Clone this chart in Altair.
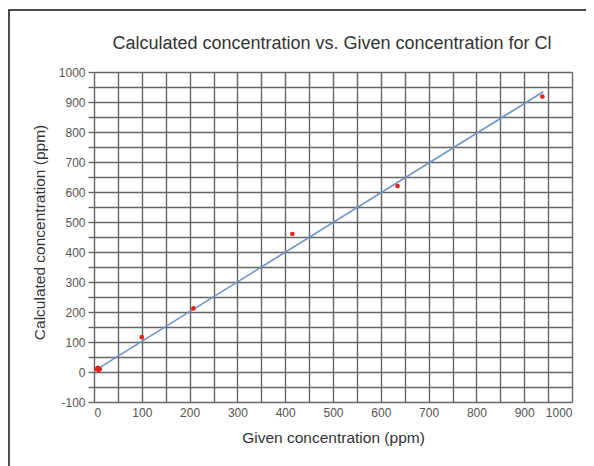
import altair as alt
import pandas as pd

given = [5, 8, 10, 12, 100, 208, 415, 635, 938]
calculated = [10, 14, 6, 10, 116, 212, 460, 620, 918]
fit_x = [5, 940]
fit_y = [8, 934]
x_ticks = list(range(0, 1001, 50))
y_ticks = list(range(-100, 1001, 50))
title_text = "Calculated concentration vs. Given concentration for Cl"

pts = pd.DataFrame({"given": given, "calc": calculated})
fit = pd.DataFrame({"given": fit_x, "calc": fit_y})

FONT = "Liberation Sans"
GRID = "#666666"
LABEL_EXPR = "datum.value % 100 == 0 ? '' + datum.value : ''"

xscale = alt.Scale(domain=[0, 1000], nice=False, zero=False)
yscale = alt.Scale(domain=[-100, 1000], nice=False, zero=False)

xaxis = alt.Axis(
    title="Given concentration (ppm)", values=x_ticks,
    labelExpr=LABEL_EXPR, labelOverlap=False,
    grid=True, gridColor=GRID, gridWidth=1.4, gridOpacity=1,
    domain=False, ticks=False, labelPadding=5,
    labelFont=FONT, labelFontSize=12, labelColor="#555555",
    titleFont=FONT, titleFontSize=15.5, titleFontWeight="normal", titleColor="#333333",
    titleY=35, titleBaseline="middle",
)
yaxis = alt.Axis(
    title="Calculated concentration (ppm)", values=y_ticks,
    labelExpr=LABEL_EXPR, labelOverlap=False,
    grid=True, gridColor=GRID, gridWidth=1.4, gridOpacity=1,
    domain=False, ticks=True, tickColor=GRID, tickSize=6, tickWidth=1.4,
    labelPadding=3,
    labelFont=FONT, labelFontSize=12, labelColor="#555555",
    titleFont=FONT, titleFontSize=15.5, titleFontWeight="normal", titleColor="#333333",
    titleX=-55, titleY=160, titleAngle=-90, titleAlign="center", titleBaseline="middle",
)

frame = alt.Chart(alt.Data(values=[{}])).mark_rect(
    fill=None, stroke="#111111", strokeWidth=1.5
).encode(
    x=alt.value(-85), x2=alt.value(620), y=alt.value(-62), y2=alt.value(520)
)

title = alt.Chart(alt.Data(values=[{"t": title_text}])).mark_text(
    font=FONT, fontSize=18, color="#333333", align="center", baseline="middle"
).encode(
    text="t:N", x=alt.value(238), y=alt.value(-28)
)

line = alt.Chart(fit).mark_line(color="#6f93c6", strokeWidth=1.6).encode(
    x=alt.X("given:Q", scale=xscale, axis=xaxis),
    y=alt.Y("calc:Q", scale=yscale, axis=yaxis),
)

points = alt.Chart(pts).mark_circle(color="#e8221b", size=22, opacity=1).encode(
    x=alt.X("given:Q", scale=xscale, axis=xaxis),
    y=alt.Y("calc:Q", scale=yscale, axis=yaxis),
)

chart = alt.layer(line, points, frame, title).properties(
    width=478, height=330,
    autosize=alt.AutoSizeParams(type="none"),
    padding={"left": 86, "top": 64, "right": 14, "bottom": 64},
).configure_view(stroke=GRID, strokeWidth=1.4).configure(background="white")

chart.save("out.html", embed_options={"renderer": "svg", "actions": False})
